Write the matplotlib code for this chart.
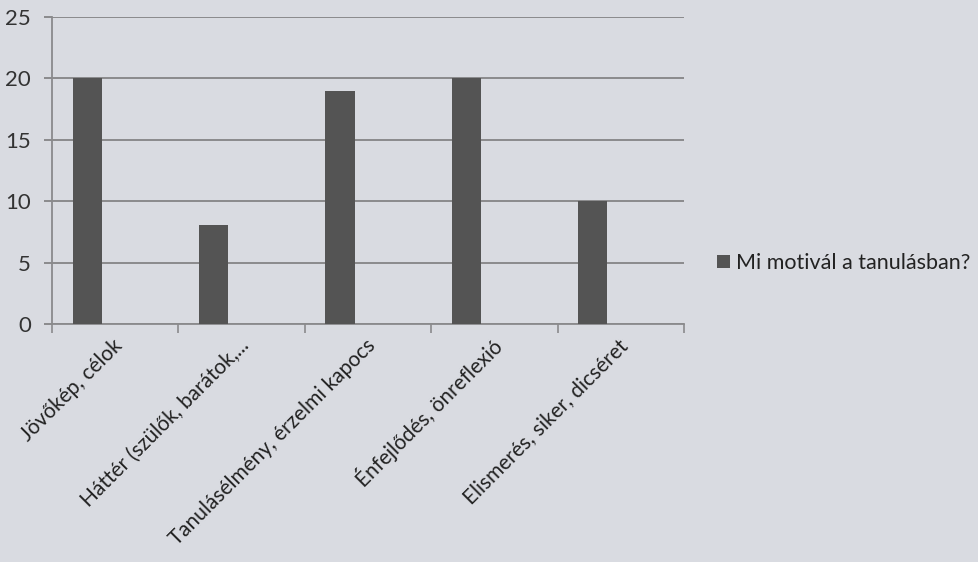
import matplotlib
matplotlib.use("Agg")
import matplotlib.pyplot as plt
import numpy as np

categories = ["Jövőkép, célok", "Háttér (szülők, barátok,...", "Tanulásélmény, érzelmi kapocs",
              "Énfejlődés, önreflexió", "Elismerés, siker, dicséret"]
values = [20, 8.1, 19, 20, 10]
series_name = "Mi motivál a tanulásban?"
yticks = [0, 5, 10, 15, 20, 25]

bg = "#d9dbe1"
bar_color = "#545454"
grid_color = "#8a8a8c"

plt.rcParams['font.family'] = ['Lato', 'DejaVu Sans']
fig = plt.figure(figsize=(9.79, 5.62), dpi=100, facecolor=bg)
ax = fig.add_axes([51.7/979, 1-324.3/562, (684-51.7)/979, (324.3-16.7)/562])
ax.set_facecolor(bg)

x = np.arange(len(categories))
ax.bar(x - 0.22, values, width=0.23, color=bar_color, label=series_name, zorder=3)

ax.set_xlim(-0.5, len(categories)-0.5)
ax.set_ylim(0, 25)
ax.set_yticks(yticks)
ax.set_yticklabels([str(t) for t in yticks], fontsize=16, color="#333333")
ax.yaxis.grid(True, color=grid_color, linewidth=1.4, zorder=1)
ax.tick_params(axis='y', length=6, width=1.4, color=grid_color, pad=9)

ax.set_xticks(np.arange(-0.5, len(categories)+0.5, 1))
ax.set_xticklabels([])
ax.tick_params(axis='x', length=6.5, width=1.2, color=grid_color)
for i, c in enumerate(categories):
    ax.annotate(c, xy=(i, 0), xycoords=('data', 'axes fraction'),
                xytext=(3, -13), textcoords='offset points',
                rotation=45, ha='right', va='center', rotation_mode='anchor',
                fontsize=15, color="#222222")

for s in ['top', 'right']:
    ax.spines[s].set_visible(False)
for s in ['left', 'bottom']:
    ax.spines[s].set_color(grid_color)
    ax.spines[s].set_linewidth(1.3)

leg = fig.legend(loc='center left', bbox_to_anchor=(717/979, 1-263/562), frameon=False,
                 fontsize=15.5, handlelength=0.6, handleheight=0.6, handletextpad=0.3,
                 borderpad=0, borderaxespad=0)
for t in leg.get_texts():
    t.set_color("#222222")

fig.savefig("out.png", dpi=100, facecolor=bg)
